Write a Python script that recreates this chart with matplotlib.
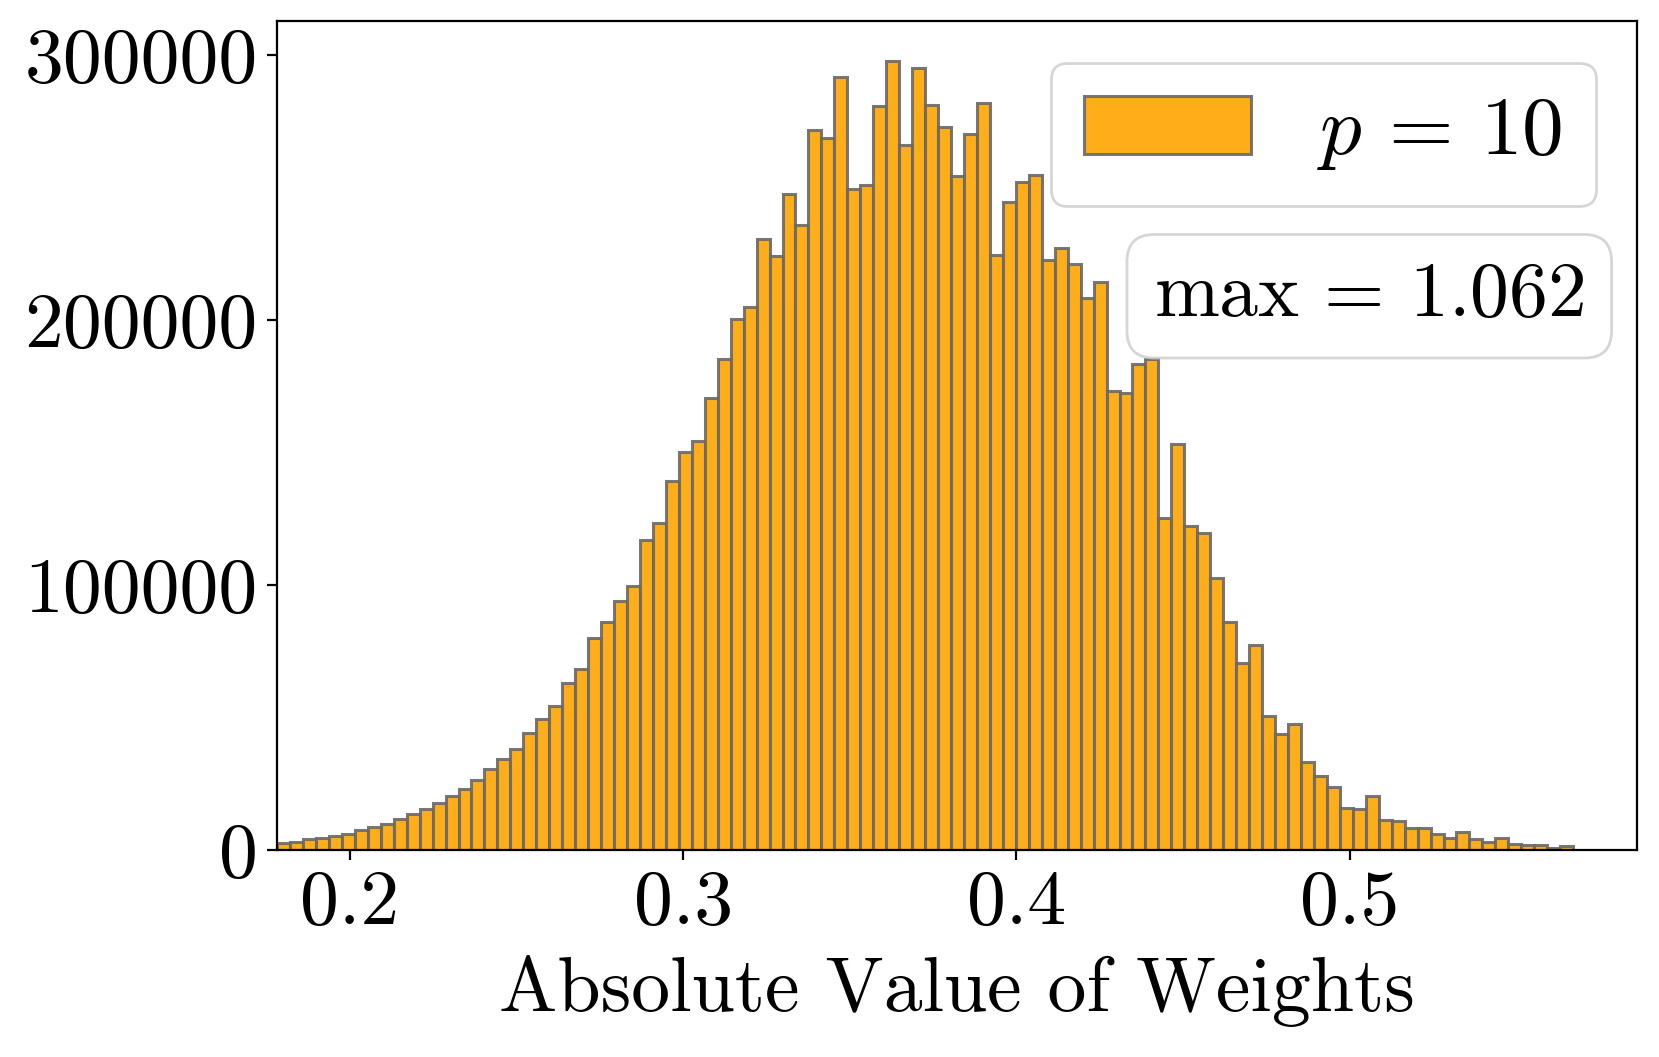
import matplotlib
matplotlib.use("Agg")
import matplotlib.pyplot as plt
import numpy as np

plt.rcParams['font.family'] = 'serif'
plt.rcParams['font.serif'] = ['cmr10']
plt.rcParams['mathtext.fontset'] = 'cm'
plt.rcParams['axes.formatter.use_mathtext'] = True
plt.rcParams['font.size'] = 28

# histogram: 100 bins between x_lo and x_hi
x_lo = 0.17808
x_hi = 0.5671
counts = [
    2500, 3150, 4000, 4650, 5300, 6200, 7400, 8700, 9950, 11600,
    13500, 15600, 17900, 20400, 23000, 26400, 30500, 34500, 38000, 44300,
    49500, 54300, 63000, 68300, 79800, 85900, 94000, 99600, 116800, 123500,
    139100, 150000, 154100, 170400, 185200, 200200, 205000, 230600, 223900, 247500,
    235700, 271600, 268600, 291500, 249300, 251000, 280600, 297800, 266100, 295000,
    281200, 272800, 254400, 269900, 281800, 224500, 244600, 251900, 254800, 222400,
    227200, 221100, 208400, 214300, 173100, 172500, 183400, 185100, 125100, 153200,
    122300, 119400, 102500, 86200, 70600, 77300, 50600, 43700, 47400, 33300,
    27800, 23900, 15800, 15400, 20500, 11400, 11100, 8500, 8200, 5900,
    4700, 6900, 4000, 3200, 4700, 2100, 1900, 1900, 900, 1600,
]
label = r'$p\,=\,10$'
max_text = r'$\max\,=\,1.062$'
xlabel = 'Absolute Value of Weights'

edges = np.linspace(x_lo, x_hi, len(counts) + 1)

fig = plt.figure(figsize=(8.295, 5.285), dpi=200)
ax = fig.add_axes([0.167, 0.1958, 0.8200, 0.7843])

ax.bar(edges[:-1], counts, width=np.diff(edges), align='edge',
       color='orange', edgecolor='dimgray', linewidth=1.1, alpha=0.9, label=label)

ax.set_xlim(x_lo, 0.5864)
ax.set_ylim(0, max(counts) * 1.05)
ax.set_xticks([0.2, 0.3, 0.4, 0.5])
ax.set_xticklabels(['0.2', '0.3', '0.4', '0.5'])
ax.set_yticks([0, 100000, 200000, 300000])
ax.set_yticklabels(['0', '100000', '200000', '300000'])
ax.set_xlabel(xlabel, labelpad=6)

ax.legend(loc='upper right', fontsize=30)
ax.text(0.961, 0.668, max_text, transform=ax.transAxes, ha='right', va='center',
        bbox=dict(boxstyle='round,pad=0.35', facecolor='white', edgecolor='0.8', alpha=0.8))

fig.savefig('out.png', dpi=200)
